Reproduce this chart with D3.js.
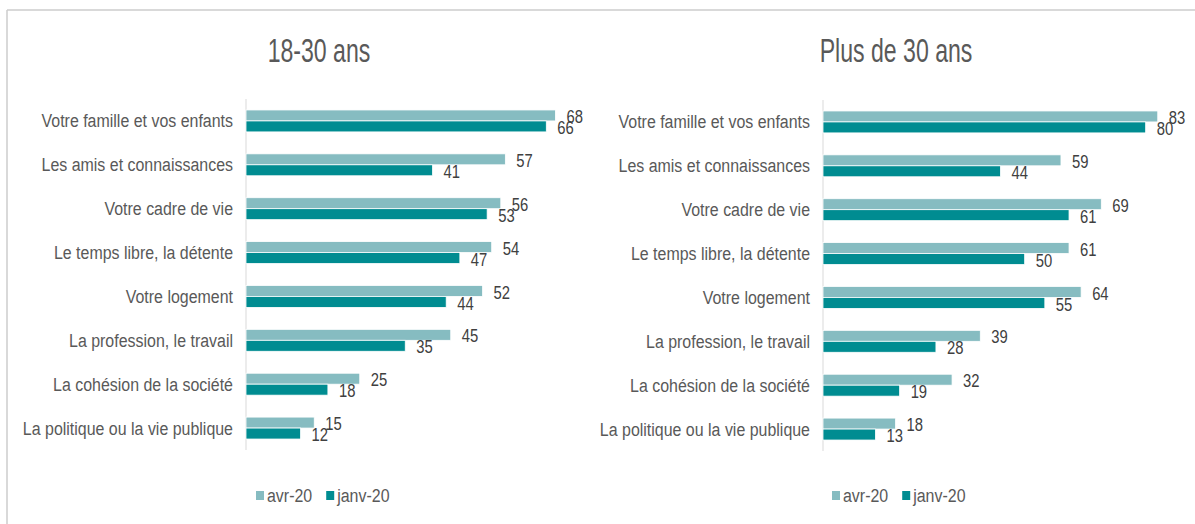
<!DOCTYPE html>
<html>
<head>
<meta charset="utf-8">
<script src="https://cdn.jsdelivr.net/npm/d3@7"></script>
<style>
    body { margin: 0; background: #fff; }
    svg { display: block; font-family: "Liberation Sans", Arial, sans-serif; }
</style>
</head>
<body>
<svg id="chart" width="1195" height="524"></svg>
<script>
// catégories (de haut en bas)
const categories = [
    'Votre famille et vos enfants',
    'Les amis et connaissances',
    'Votre cadre de vie',
    'Le temps libre, la détente',
    'Votre logement',
    'La profession, le travail',
    'La cohésion de la société',
    'La politique ou la vie publique',
];
const seriesNames = ['avr-20', 'janv-20'];
const colors = ['#86bcc1', '#008c91'];

// 18-30 ans
const avr1830 = [68, 57, 56, 54, 52, 45, 25, 15];
const janv1830 = [66, 41, 53, 47, 44, 35, 18, 12];

// Plus de 30 ans
const avrPlus30 = [83, 59, 69, 61, 64, 39, 32, 18];
const janvPlus30 = [80, 44, 61, 50, 55, 28, 19, 13];

const svg = d3.select('#chart');

// police condensée : on compresse horizontalement
const squeeze = (x, y, s) => `translate(${x},${y}) scale(${s},1)`;

// cadre extérieur (haut + gauche)
svg.append('line')
    .attr('x1', 7).attr('y1', 10).attr('x2', 1195).attr('y2', 10)
    .attr('stroke', '#cccccc').attr('stroke-width', 1.5);
svg.append('line')
    .attr('x1', 7).attr('y1', 10).attr('x2', 7).attr('y2', 524)
    .attr('stroke', '#cccccc').attr('stroke-width', 1.5);

function drawPanel(opts) {
    const { title, titleX, axisX, plotW, xMax, yRange, legendX, values } = opts;

    const g = svg.append('g');

    // titre
    g.append('text')
        .attr('transform', squeeze(titleX, 50, 0.7))
        .attr('text-anchor', 'middle')
        .attr('dominant-baseline', 'central')
        .attr('font-size', '33px')
        .attr('fill', '#595959')
        .text(title);

    const x = d3.scaleLinear().domain([0, xMax]).range([axisX, axisX + plotW]);
    const y = d3.scaleBand().domain(categories).range(yRange).paddingInner(0.5).paddingOuter(0.25);
    const ySub = d3.scaleBand().domain(seriesNames).range([0, y.bandwidth()]);

    // axe vertical
    g.append('line')
        .attr('x1', axisX).attr('x2', axisX)
        .attr('y1', yRange[0]).attr('y2', yRange[1])
        .attr('stroke', '#d9d9d9').attr('stroke-width', 1);

    // libellés des catégories
    g.selectAll('.cat')
        .data(categories)
        .join('text')
        .attr('class', 'cat')
        .attr('transform', (d) => squeeze(axisX - 13, y(d) + y.bandwidth() / 2, 0.84))
        .attr('text-anchor', 'end')
        .attr('dominant-baseline', 'central')
        .attr('font-size', '19px')
        .attr('fill', '#595959')
        .text((d) => d);

    // barres + étiquettes
    seriesNames.forEach((s, si) => {
        const rows = categories.map((c, i) => ({ c, v: values[si][i] }));

        g.selectAll(`.bar${si}`)
            .data(rows)
            .join('rect')
            .attr('class', `bar${si}`)
            .attr('x', axisX)
            .attr('y', (d) => y(d.c) + ySub(s))
            .attr('width', (d) => x(d.v) - axisX)
            .attr('height', ySub.bandwidth())
            .attr('fill', colors[si])
            .attr('stroke', '#fff')
            .attr('stroke-width', 0.8);

        g.selectAll(`.lab${si}`)
            .data(rows)
            .join('text')
            .attr('class', `lab${si}`)
            .attr('transform', (d) => squeeze(x(d.v) + 11, y(d.c) + ySub(s) + ySub.bandwidth() / 2 + 1.5, 0.78))
            .attr('dominant-baseline', 'central')
            .attr('font-size', '19px')
            .attr('fill', '#404040')
            .text((d) => d.v);
    });

    // légende
    const leg = g.append('g').attr('transform', `translate(${legendX},496)`);
    let lx = 0;
    seriesNames.forEach((s, si) => {
        leg.append('rect')
            .attr('x', lx).attr('y', -5)
            .attr('width', 8).attr('height', 9)
            .attr('fill', colors[si]);
        const t = leg.append('text')
            .attr('transform', squeeze(lx + 11, 0, 0.84))
            .attr('dominant-baseline', 'central')
            .attr('font-size', '19px')
            .attr('fill', '#595959')
            .text(s);
        lx += 11 + t.node().getComputedTextLength() * 0.84 + 14;
    });
}

drawPanel({
    title: '18-30 ans', titleX: 319, axisX: 246, plotW: 364, xMax: 80,
    yRange: [99, 450], legendX: 256, values: [avr1830, janv1830],
});

drawPanel({
    title: 'Plus de 30 ans', titleX: 896, axisX: 823, plotW: 363, xMax: 90,
    yRange: [100, 451], legendX: 832, values: [avrPlus30, janvPlus30],
});
</script>
</body>
</html>
